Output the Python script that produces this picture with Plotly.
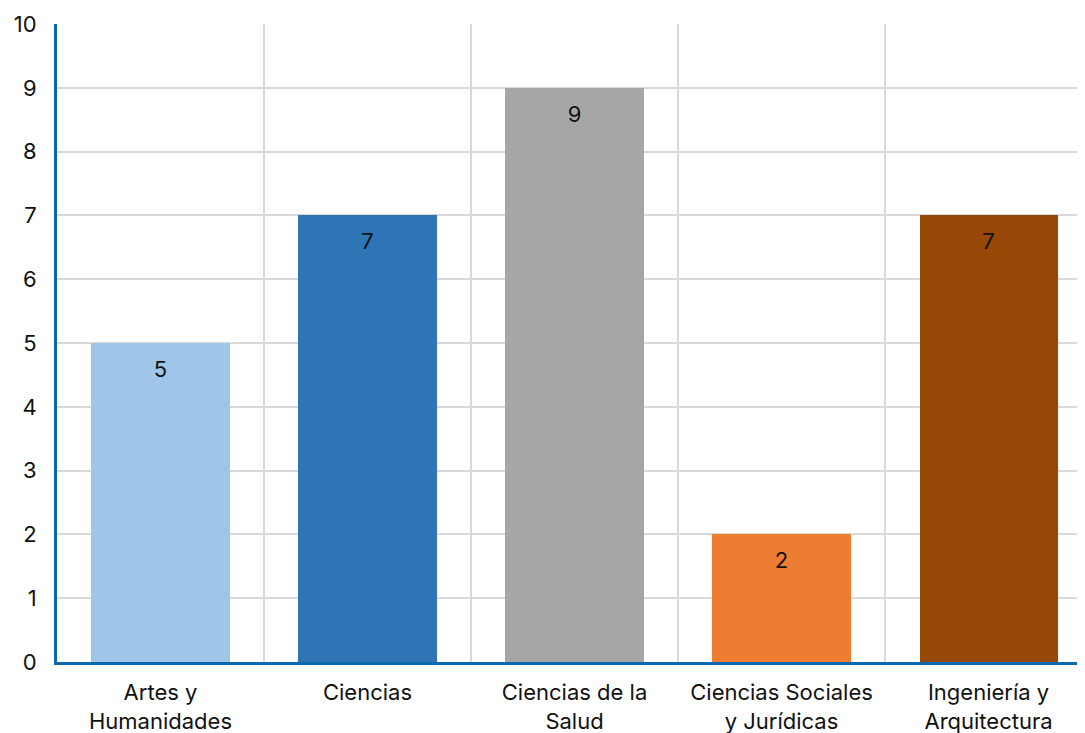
import plotly.graph_objects as go

categories = ['Artes y<br>Humanidades', 'Ciencias', 'Ciencias de la<br>Salud',
              'Ciencias Sociales<br>y Jurídicas', 'Ingeniería y<br>Arquitectura']
values = [5, 7, 9, 2, 7]
colors = ['#9FC5E8', '#2E75B6', '#A6A6A6', '#ED7D31', '#974706']
y_ticks = list(range(0, 11))

positions = list(range(len(categories)))

fig = go.Figure()
fig.add_trace(go.Bar(x=positions, y=values, width=0.667, marker=dict(color=colors, line=dict(width=0)),
                     hoverinfo='skip'))
# value labels sitting just under the top of each bar
fig.add_trace(go.Scatter(x=positions, y=values, mode='markers+text', text=[str(v) for v in values],
                         textposition='bottom center', marker=dict(size=26, opacity=0),
                         textfont=dict(size=22, color='#111111'), cliponaxis=False))

axis_blue = '#0B69AE'
grid = '#D9D9D9'

# page body has an 8px default margin, so offsets are compensated here
fig.update_layout(
    width=1085, height=733,
    margin=dict(l=49, r=8, t=16, b=79),
    plot_bgcolor='white', paper_bgcolor='white',
    font=dict(family='Inter, Noto Sans, sans-serif', size=22, color='#111111'),
    showlegend=False, bargap=0,
)
fig.update_xaxes(range=[-0.5, 4.466], tickmode='array', tickvals=positions, ticktext=categories,
                 showgrid=False, zeroline=False, showline=True, linecolor=axis_blue, linewidth=3,
                 ticks='', ticklabelstandoff=9, automargin=False,
                 minor=dict(tickmode='linear', tick0=0.5, dtick=1, showgrid=True, gridcolor=grid, gridwidth=2))
fig.update_yaxes(range=[0, 10], tickmode='array', tickvals=y_ticks, showgrid=True, gridcolor=grid, gridwidth=2,
                 zeroline=False, showline=True, linecolor=axis_blue, linewidth=3, ticks='',
                 ticklabelstandoff=13, automargin=False)

fig.write_html("out.html")
